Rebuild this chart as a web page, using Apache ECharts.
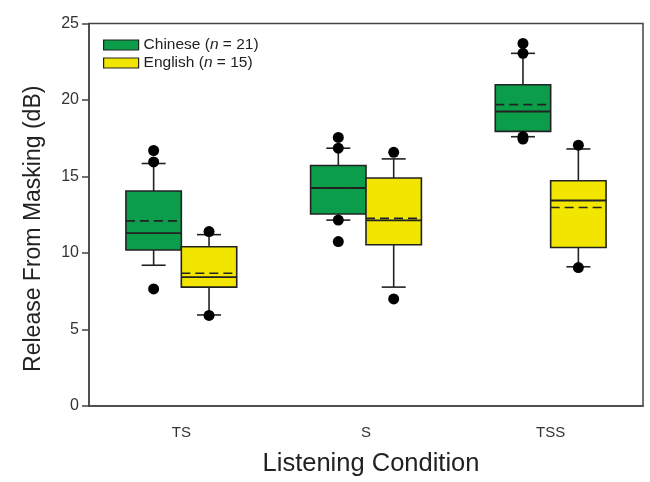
<!DOCTYPE html>
<html>
<head>
<meta charset="utf-8">
<script src="https://cdn.jsdelivr.net/npm/echarts@6/dist/echarts.min.js"></script>
<style>html,body{margin:0;padding:0;background:#fff}#c{width:650px;height:482px}</style>
</head>
<body>
<div id="c"></div>
<script>
var categories = ['TS', 'S', 'TSS'];
var yTicks = [0, 5, 10, 15, 20, 25];

// Chinese (n = 21)
var cnWhiskerLow  = [9.2, 12.15, 17.6];
var cnQ1          = [10.2, 12.55, 17.95];
var cnMedian      = [11.3, 14.25, 19.25];
var cnQ3          = [14.05, 15.72, 21.0];
var cnWhiskerHigh = [15.85, 16.85, 23.05];
var cnMean        = [12.1, 14.25, 19.7];
var cnOutliers    = [[0, 16.7], [0, 15.95], [0, 7.65], [1, 17.55], [1, 16.85], [1, 12.15], [1, 10.75], [2, 23.7], [2, 23.05], [2, 17.6], [2, 17.45]];

// English (n = 15)
var enWhiskerLow  = [5.95, 7.77, 9.1];
var enQ1          = [7.77, 10.54, 10.36];
var enMedian      = [8.42, 12.13, 13.43];
var enQ3          = [10.41, 14.9, 14.72];
var enWhiskerHigh = [11.2, 16.15, 16.8];
var enMean        = [8.68, 12.26, 12.97];
var enOutliers    = [[0, 11.4], [0, 5.92], [1, 16.58], [1, 7.0], [2, 17.05], [2, 9.05]];

var GREEN = '#0c9d4a';
var YELLOW = '#f2e600';
var EDGE = '#222';
var FONT = 'Liberation Sans, Arial, sans-serif';

function boxData(lo, q1, med, q3, hi, mean) {
  return categories.map(function (c, i) { return [i, lo[i], q1[i], med[i], q3[i], hi[i], mean[i]]; });
}

function makeBoxRender(side, color) {
  return function (params, api) {
    var cat = api.value(0);
    var band = api.size([1, 0])[0];
    var cx0 = api.coord([cat, 0])[0];
    var w = band * 0.3;
    var xl = side < 0 ? cx0 - w : cx0;
    var xr = xl + w;
    var xm = (xl + xr) / 2;
    var capHalf = band * 0.065;
    var yLo = api.coord([cat, api.value(1)])[1];
    var yQ1 = api.coord([cat, api.value(2)])[1];
    var yMed = api.coord([cat, api.value(3)])[1];
    var yQ3 = api.coord([cat, api.value(4)])[1];
    var yHi = api.coord([cat, api.value(5)])[1];
    var yMean = api.coord([cat, api.value(6)])[1];
    var ls = { stroke: EDGE, lineWidth: 1.6 };
    return {
      type: 'group',
      children: [
        { type: 'line', shape: { x1: xm, y1: yHi, x2: xm, y2: yQ3 }, style: ls },
        { type: 'line', shape: { x1: xm, y1: yQ1, x2: xm, y2: yLo }, style: ls },
        { type: 'line', shape: { x1: xm - capHalf, y1: yHi, x2: xm + capHalf, y2: yHi }, style: ls },
        { type: 'line', shape: { x1: xm - capHalf, y1: yLo, x2: xm + capHalf, y2: yLo }, style: ls },
        { type: 'rect', shape: { x: xl, y: yQ3, width: w, height: yQ1 - yQ3 }, style: { fill: color, stroke: EDGE, lineWidth: 1.6 } },
        { type: 'line', shape: { x1: xl, y1: yMed, x2: xr, y2: yMed }, style: { stroke: EDGE, lineWidth: 1.8 } },
        { type: 'line', shape: { x1: xl, y1: yMean, x2: xr, y2: yMean }, style: { stroke: EDGE, lineWidth: 1.6, lineDash: [9, 5] } }
      ]
    };
  };
}

function makeDotRender(side) {
  return function (params, api) {
    var cat = api.value(0);
    var band = api.size([1, 0])[0];
    var pt = api.coord([cat, api.value(1)]);
    var x = pt[0] + side * band * 0.15;
    return { type: 'circle', shape: { cx: x, cy: pt[1], r: 5.5 }, style: { fill: '#000' } };
  };
}

var chart = echarts.init(document.getElementById('c'), null, { renderer: 'canvas' });
chart.setOption({
  animation: false,
  backgroundColor: '#fff',
  grid: { left: 89, right: 7, top: 23.5, bottom: 71.5, show: true, borderColor: '#444', borderWidth: 1.5, backgroundColor: 'transparent' },
  legend: {
    left: 98, top: 31, orient: 'vertical',
    itemWidth: 35, itemHeight: 10, itemGap: 0,
    icon: 'rect',
    data: [
      { name: 'Chinese', itemStyle: { color: GREEN, borderColor: EDGE, borderWidth: 1.2 } },
      { name: 'English', itemStyle: { color: YELLOW, borderColor: EDGE, borderWidth: 1.2 } }
    ],
    formatter: function (name) {
      return name === 'Chinese' ? '{a|Chinese (}{i|n}{a| = 21)}' : '{a|English (}{i|n}{a| = 15)}';
    },
    textStyle: {
      fontFamily: FONT, fontSize: 15.5, color: '#222', lineHeight: 18,
      rich: {
        a: { fontFamily: FONT, fontSize: 15.5, color: '#222', lineHeight: 18 },
        i: { fontFamily: FONT, fontSize: 15.5, color: '#222', fontStyle: 'italic', lineHeight: 18 }
      }
    },
    itemStyle: { borderColor: EDGE, borderWidth: 1.2 }
  },
  xAxis: {
    type: 'category', data: categories, boundaryGap: true,
    name: 'Listening Condition', nameLocation: 'middle', nameGap: 45,
    nameTextStyle: { fontFamily: FONT, fontSize: 25.5, color: '#222', padding: [0, 0, 0, 10] },
    axisLine: { lineStyle: { color: '#444', width: 1.5 } },
    axisTick: { alignWithLabel: true, length: 6, lineStyle: { color: '#444', width: 1.5 } },
    axisLabel: { fontFamily: FONT, fontSize: 15, color: '#333', margin: 19 },
    splitLine: { show: false }
  },
  yAxis: {
    type: 'value', min: yTicks[0], max: yTicks[yTicks.length - 1], interval: 5,
    name: 'Release From Masking (dB)', nameLocation: 'middle', nameGap: 44,
    nameTextStyle: { fontFamily: FONT, fontSize: 23, color: '#222', padding: [0, 28, 0, 0] },
    axisLine: { show: true, lineStyle: { color: '#444', width: 1.5 } },
    axisTick: { show: true, length: 7, lineStyle: { color: '#444', width: 1.5 } },
    axisLabel: { fontFamily: FONT, fontSize: 16, color: '#333', margin: 10 },
    splitLine: { show: false }
  },
  series: [
    { name: 'Chinese', type: 'custom', itemStyle: { color: GREEN }, renderItem: makeBoxRender(-1, GREEN),
      data: boxData(cnWhiskerLow, cnQ1, cnMedian, cnQ3, cnWhiskerHigh, cnMean), encode: { x: 0, y: [1, 2, 3, 4, 5, 6] }, z: 2 },
    { name: 'English', type: 'custom', itemStyle: { color: YELLOW }, renderItem: makeBoxRender(1, YELLOW),
      data: boxData(enWhiskerLow, enQ1, enMedian, enQ3, enWhiskerHigh, enMean), encode: { x: 0, y: [1, 2, 3, 4, 5, 6] }, z: 2 },
    { name: 'Chinese outliers', type: 'custom', renderItem: makeDotRender(-1), data: cnOutliers, encode: { x: 0, y: 1 }, z: 3 },
    { name: 'English outliers', type: 'custom', renderItem: makeDotRender(1), data: enOutliers, encode: { x: 0, y: 1 }, z: 3 }
  ]
});
</script>
</body>
</html>
